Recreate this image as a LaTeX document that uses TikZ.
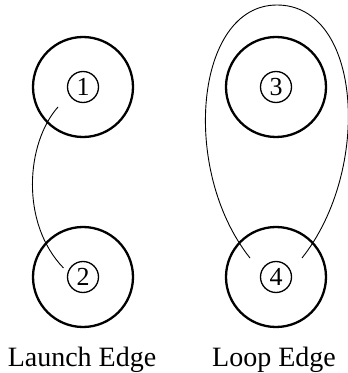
\documentclass[tikz,border=0pt]{standalone}
\usepackage{fontspec}
\setmainfont{Liberation Serif}
\begin{document}
\begin{tikzpicture}[x=1pt,y=1pt,
  outer/.style={circle, draw, line width=2.3pt, minimum size=100pt, inner sep=0pt},
  inner/.style={circle, draw, line width=1.3pt, minimum size=31pt, inner sep=0pt, font=\fontsize{26}{26}\selectfont},
  edgeline/.style={line width=0.9pt},
  lbl/.style={font=\fontsize{28}{28}\selectfont, inner sep=0pt, anchor=base}]
\useasboundingbox (0,0) rectangle (348,373);
% outer circles
\node[outer] (o1) at (83,286) {};
\node[outer] (o2) at (83,96) {};
\node[outer] (o3) at (276,286) {};
\node[outer] (o4) at (276,96) {};
% inner circled numbers
\node[inner] (n1) at (o1.center) {1};
\node[inner] (n2) at (o2.center) {2};
\node[inner] (n3) at (o3.center) {3};
\node[inner] (n4) at (o4.center) {4};
% edge end points
\coordinate (a1) at (58,266);
\coordinate (a2) at (63.5,105);
\coordinate (b1) at (250,115);
\coordinate (b2) at (302,115);
\coordinate (top) at (277,368);
% launch edge
\draw[edgeline] (a1) .. controls (26,230) and (20,150) .. (a2);
% loop edge
\draw[edgeline] (b1) .. controls (180,203) and (195,368) .. (top)
  .. controls (362,368) and (372,203) .. (b2);
% labels
\node[lbl] (l1) at (82,6.5) {Launch Edge};
\node[lbl] (l2) at (274,6.5) {Loop Edge};
\end{tikzpicture}
\end{document}
